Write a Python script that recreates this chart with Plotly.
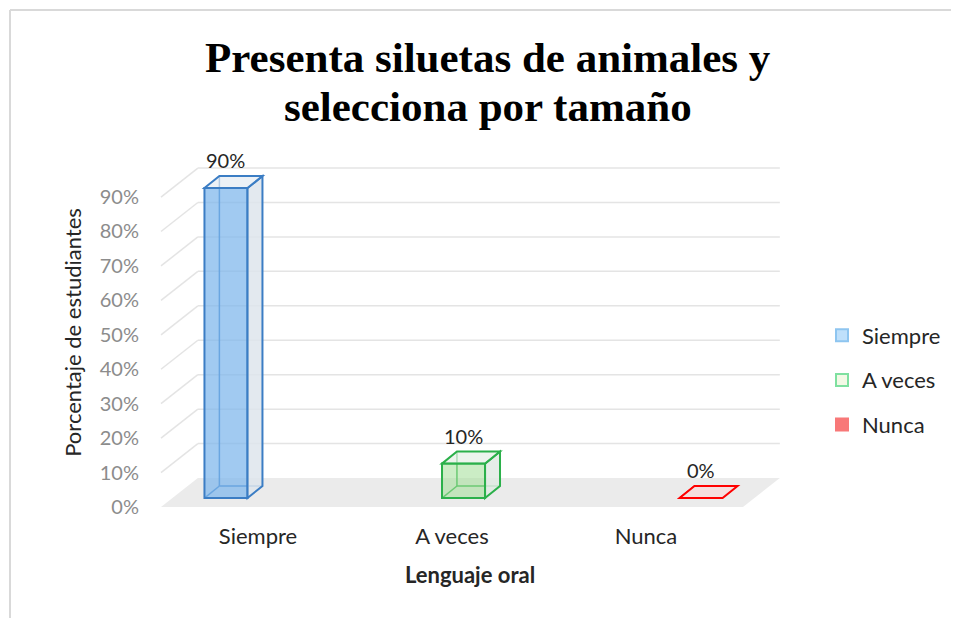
import plotly.graph_objects as go

# data
categories = ["Siempre", "A veces", "Nunca"]
values = [90, 10, 0]
labels = ["90%", "10%", "0%"]
y_ticks = [0, 10, 20, 30, 40, 50, 60, 70, 80, 90]
y_ticktext = ["0%", "10%", "20%", "30%", "40%", "50%", "60%", "70%", "80%", "90%"]
title_lines = ["Presenta siluetas de animales y", "selecciona por tamaño"]

# styles
edge_colors = ["#3b7dc4", "#2bb04a", "#ff0000"]
front_fills = ["rgba(125,182,236,0.72)", "rgba(160,222,150,0.55)", "rgba(240,200,200,0.5)"]
side_fills = ["rgba(222,229,236,0.85)", "rgba(226,234,228,0.85)", "rgba(240,220,220,0.6)"]
top_fills = ["rgba(228,235,242,0.7)", "rgba(230,240,230,0.7)", "rgba(246,222,222,0.9)"]
legend_fills = ["#bfe0fb", "#f3f9e6", "#f87878"]
legend_lines = ["#8ec5f0", "#7fe0a0", "#f87878"]

FONT = "Lato"

# pseudo-3d geometry (axis units)
bar_start, bar_step = -0.165, 1.2245   # perspective spread of the boxes
bar_w = 0.222
base = 2.6
box_dx, box_dy = 0.077, 3.5
wall_dx, wall_dy = 0.19, 8.42
floor_x0, floor_x1 = -0.5, 2.5

bar_x = [bar_start + bar_step * i for i in range(len(categories))]

fig = go.Figure()

shapes = []


def poly(pts, fill, line, width=1.5, layer="above"):
    path = "M " + " L ".join(f"{x},{y}" for x, y in pts) + " Z"
    return dict(type="path", path=path, xref="x", yref="y", fillcolor=fill,
                line=dict(color=line, width=width), layer=layer)


def seg(x0, y0, x1, y1, color, width=1.5, layer="below"):
    return dict(type="line", x0=x0, y0=y0, x1=x1, y1=y1, xref="x", yref="y",
                line=dict(color=color, width=width), layer=layer)


# floor
shapes.append(poly([(floor_x0, 0), (floor_x1, 0), (floor_x1 + wall_dx, wall_dy),
                    (floor_x0 + wall_dx, wall_dy)], "#ebebeb", "rgba(0,0,0,0)", 0, "below"))

# back wall gridlines + side diagonals
for v in y_ticks[1:]:
    shapes.append(seg(floor_x0 + wall_dx, v + wall_dy, floor_x1 + wall_dx, v + wall_dy, "#e4e4e4", 1.5))
    shapes.append(seg(floor_x0, v, floor_x0 + wall_dx, v + wall_dy, "#e4e4e4", 1.5))

# hidden back edges of boxes (seen through the glass)
for xc, v, ec in zip(bar_x, values, edge_colors):
    x0 = xc - bar_w / 2
    x1 = xc + bar_w / 2
    shapes.append(seg(x0 + box_dx, base + box_dy, x0 + box_dx, base + v + box_dy, ec, 1.5))
    shapes.append(seg(x0 + box_dx, base + box_dy, x1 + box_dx, base + box_dy, ec, 1.5))
    shapes.append(seg(x0, base, x0 + box_dx, base + box_dy, ec, 1.5))

# front faces
fig.add_trace(go.Bar(
    x=bar_x, y=values, base=base, width=bar_w,
    marker=dict(color=front_fills, line=dict(color=edge_colors, width=2)),
    showlegend=False, hoverinfo="skip"
))

# side and top faces
for xc, v, ec, sf, tf in zip(bar_x, values, edge_colors, side_fills, top_fills):
    x0 = xc - bar_w / 2
    x1 = xc + bar_w / 2
    if v > 0:
        shapes.append(poly([(x1, base), (x1 + box_dx, base + box_dy),
                            (x1 + box_dx, base + v + box_dy), (x1, base + v)], sf, ec, 2))
    shapes.append(poly([(x0, base + v), (x1, base + v), (x1 + box_dx, base + v + box_dy),
                        (x0 + box_dx, base + v + box_dy)], tf, ec, 2))

# legend entries
for i, name in enumerate(categories):
    fig.add_trace(go.Bar(
        x=[None], y=[None], name=name, legendgroup=name,
        marker=dict(color=legend_fills[i], line=dict(color=legend_lines[i], width=2))
    ))


# page pixel -> paper (page has an 8px body margin, plot area 150..790 x 150..515)
def px_x(p):
    return (p - 150) / 640


def px_y(p):
    return (515 - p) / 365


# frame (left and top edges)
shapes.append(dict(type="line", xref="paper", yref="paper", x0=px_x(10), y0=px_y(10),
                   x1=px_x(959), y1=px_y(10), line=dict(color="#d9d9d9", width=2)))
shapes.append(dict(type="line", xref="paper", yref="paper", x0=px_x(10), y0=px_y(10),
                   x1=px_x(10), y1=px_y(618), line=dict(color="#d9d9d9", width=2)))

annotations = []
for xc, v, t in zip(bar_x, values, labels):
    annotations.append(dict(x=xc, y=base + v + box_dy, text=t, showarrow=False,
                            xref="x", yref="y", yanchor="bottom", yshift=2,
                            font=dict(family=FONT, size=20, color="#262626")))

# title, two lines with tighter spacing than plotly's default
for line, ypx in zip(title_lines, [58, 106]):
    annotations.append(dict(x=px_x(488), y=px_y(ypx), xref="paper", yref="paper",
                            text=f"<b>{line}</b>", showarrow=False,
                            xanchor="center", yanchor="middle",
                            font=dict(family="Liberation Serif", size=43, color="black")))

fig.update_layout(
    width=951, height=610,
    plot_bgcolor="white", paper_bgcolor="white",
    margin=dict(l=142, r=169, t=142, b=103),
    barmode="overlay",
    font=dict(family=FONT, size=20, color="#404040"),
    xaxis=dict(range=[-0.5567, 2.7423], tickvals=[0, 1, 2], ticktext=categories,
               showgrid=False, zeroline=False, showline=False, ticks="",
               ticklabelstandoff=6,
               tickfont=dict(family=FONT, size=22, color="#262626"),
               title=dict(text="<b>Lenguaje oral</b>", standoff=19,
                          font=dict(family=FONT, size=22, color="#262626"))),
    yaxis=dict(range=[-2.32, 103.66], tickvals=y_ticks, ticktext=y_ticktext,
               showgrid=False, zeroline=False, showline=False, ticks="",
               ticklabelstandoff=10,
               tickfont=dict(family=FONT, size=20, color="#8c8c8c"),
               title=dict(text="Porcentaje de estudiantes", standoff=12,
                          font=dict(family=FONT, size=22, color="#262626"))),
    legend=dict(x=1.05, xanchor="left", y=px_y(380), yanchor="middle",
                tracegroupgap=13, font=dict(family=FONT, size=22, color="#262626"),
                bgcolor="rgba(0,0,0,0)"),
    shapes=shapes,
    annotations=annotations,
)

fig.write_html("out.html")
